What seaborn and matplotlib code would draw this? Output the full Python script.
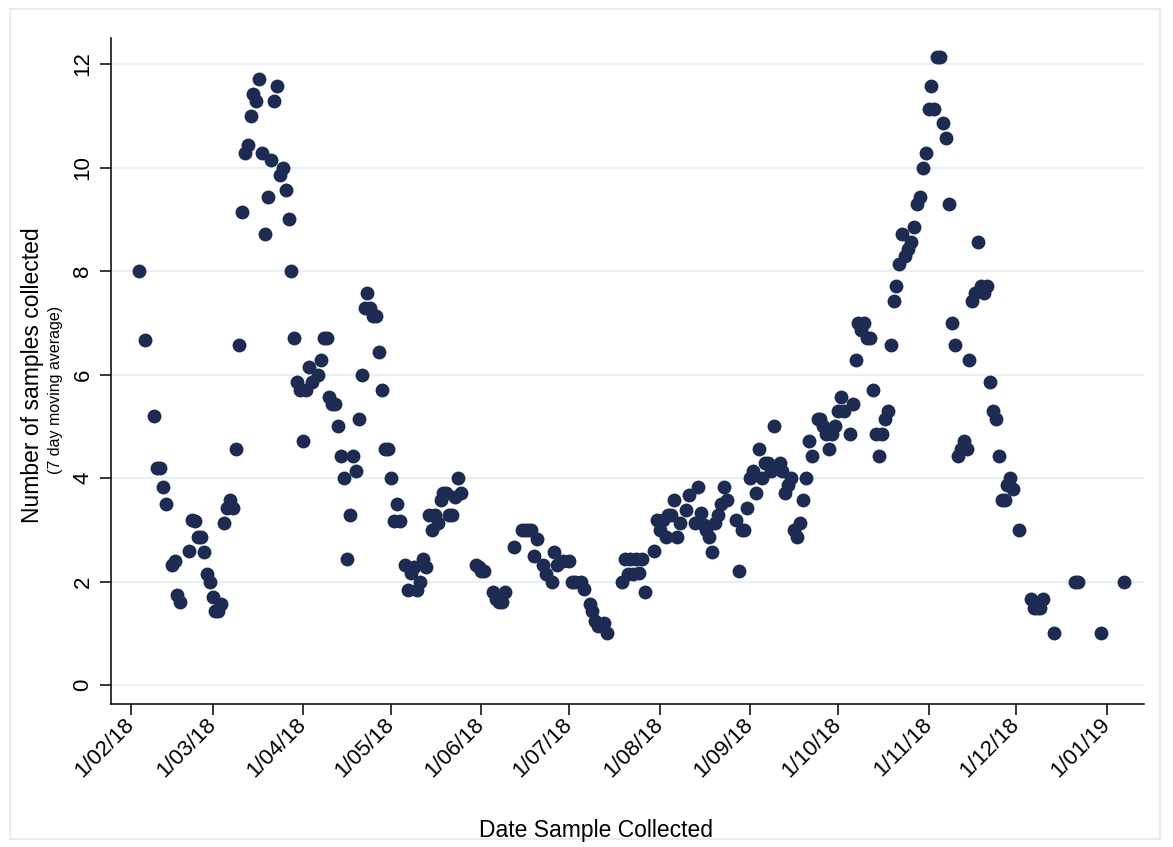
import matplotlib.pyplot as plt
import matplotlib.patches as mpatches
import numpy as np
import pandas as pd
import seaborn as sns

# days since 1 Feb 2018 and the 7 day moving average of samples on that day
day_offset = [
    3, 5, 8, 9, 10, 11, 12, 14, 15, 16, 17, 20, 21, 22, 23, 24, 25, 26, 27, 28,
    29, 30, 31, 32, 33, 34, 35, 36, 37, 38, 39, 40, 41, 42, 43, 44, 45, 46, 47, 48,
    49, 50, 51, 52, 53, 54, 55, 56, 57, 58, 59, 60, 61, 62, 64, 65, 66, 67, 68, 69,
    70, 71, 72, 73, 74, 75, 76, 77, 78, 79, 80, 81, 82, 83, 84, 85, 86, 87, 88, 89,
    90, 91, 92, 94, 95, 96, 97, 98, 99, 100, 101, 102, 103, 104, 105, 106, 107, 108, 109, 110,
    111, 112, 113, 118, 119, 120, 121, 124, 125, 126, 127, 128, 131, 134, 135, 136, 137, 138, 139, 141,
    142, 144, 145, 146, 148, 150, 151, 152, 154, 155, 157, 158, 159, 160, 162, 163, 168, 169, 170, 171,
    172, 173, 174, 175, 176, 179, 180, 181, 182, 183, 184, 185, 186, 187, 188, 190, 191, 193, 194, 195,
    196, 197, 198, 199, 200, 201, 202, 203, 204, 207, 208, 209, 210, 211, 212, 213, 214, 215, 216, 217,
    218, 219, 220, 222, 223, 224, 225, 226, 227, 228, 229, 230, 231, 232, 233, 235, 236, 237, 238, 239,
    240, 241, 242, 243, 244, 246, 247, 248, 249, 250, 251, 252, 253, 254, 255, 256, 257, 258, 259, 260,
    261, 262, 263, 264, 265, 266, 267, 268, 269, 270, 271, 272, 273, 274, 275, 276, 277, 278, 279, 280,
    281, 282, 283, 284, 285, 286, 287, 288, 289, 290, 291, 292, 293, 294, 295, 296, 297, 298, 299, 300,
    301, 302, 304, 308, 309, 310, 311, 312, 316, 323, 324, 332, 340,
]
samples_avg = [
    8.0, 6.67, 5.2, 4.2, 4.2, 3.83, 3.5, 2.33, 2.4, 1.75, 1.6, 2.6, 3.2, 3.17, 2.86, 2.86, 2.57, 2.14, 2.0, 1.71,
    1.43, 1.43, 1.57, 3.14, 3.43, 3.57, 3.43, 4.57, 6.57, 9.14, 10.29, 10.43, 11.0, 11.43, 11.29, 11.71, 10.29, 8.71, 9.43, 10.14,
    11.29, 11.57, 9.86, 10.0, 9.57, 9.0, 8.0, 6.71, 5.86, 5.71, 4.71, 5.71, 6.14, 5.86, 6.0, 6.29, 6.71, 6.71, 5.57, 5.43,
    5.43, 5.0, 4.43, 4.0, 2.43, 3.29, 4.43, 4.14, 5.14, 6.0, 7.29, 7.57, 7.29, 7.14, 7.14, 6.43, 5.71, 4.57, 4.57, 4.0,
    3.17, 3.5, 3.17, 2.33, 1.83, 2.17, 2.29, 1.83, 2.0, 2.43, 2.29, 3.29, 3.0, 3.29, 3.14, 3.57, 3.71, 3.71, 3.29, 3.29,
    3.64, 4.0, 3.71, 2.33, 2.29, 2.2, 2.2, 1.8, 1.67, 1.6, 1.6, 1.8, 2.67, 3.0, 3.0, 3.0, 3.0, 2.5, 2.83, 2.33,
    2.14, 2.0, 2.57, 2.33, 2.4, 2.4, 2.0, 2.0, 2.0, 1.86, 1.57, 1.43, 1.25, 1.14, 1.2, 1.0, 2.0, 2.43, 2.14, 2.43,
    2.14, 2.43, 2.17, 2.43, 1.8, 2.6, 3.19, 3.0, 3.19, 2.86, 3.29, 3.29, 3.57, 2.86, 3.14, 3.39, 3.67, 3.14, 3.83, 3.33,
    3.1, 3.0, 2.86, 2.57, 3.14, 3.29, 3.5, 3.83, 3.57, 3.2, 2.2, 3.0, 3.0, 3.43, 4.0, 4.14, 3.71, 4.57, 4.0, 4.29,
    4.29, 4.14, 5.0, 4.29, 4.14, 3.71, 3.86, 4.0, 3.0, 2.86, 3.14, 3.57, 4.0, 4.71, 4.43, 5.14, 5.14, 5.0, 4.86, 4.57,
    4.86, 5.0, 5.29, 5.57, 5.29, 4.86, 5.43, 6.29, 7.0, 6.86, 7.0, 6.71, 6.71, 5.71, 4.86, 4.43, 4.86, 5.14, 5.29, 6.57,
    7.43, 7.71, 8.14, 8.71, 8.29, 8.43, 8.57, 8.86, 9.29, 9.43, 10.0, 10.29, 11.14, 11.57, 11.14, 12.14, 12.14, 10.86, 10.57, 9.29,
    7.0, 6.57, 4.43, 4.57, 4.71, 4.57, 6.29, 7.43, 7.57, 8.57, 7.71, 7.57, 7.71, 5.86, 5.29, 5.14, 4.43, 3.57, 3.57, 3.86,
    4.0, 3.79, 3.0, 1.67, 1.5, 1.5, 1.5, 1.67, 1.0, 2.0, 2.0, 1.0, 2.0,
]

tick_dates = pd.date_range("2018-02-01", "2019-01-01", freq="MS")
tick_labels = ["1/02/18", "1/03/18", "1/04/18", "1/05/18", "1/06/18", "1/07/18",
               "1/08/18", "1/09/18", "1/10/18", "1/11/18", "1/12/18", "1/01/19"]
y_ticks = [0, 2, 4, 6, 8, 10, 12]

df = pd.DataFrame({
    "date": pd.Timestamp("2018-02-01") + pd.to_timedelta(day_offset, unit="D"),
    "avg": samples_avg,
})

sns.set_style("white")
plt.rcParams["font.family"] = ["Liberation Sans", "DejaVu Sans"]
plt.rcParams["text.color"] = "black"
plt.rcParams["xtick.color"] = "black"
plt.rcParams["ytick.color"] = "black"

fig = plt.figure(figsize=(11.73, 8.47), dpi=100)
ax = fig.add_axes([0.095, 0.169, 0.880, 0.786])

g = sns.scatterplot(data=df, x="date", y="avg", ax=ax, color="#1d2b52",
                    s=100, linewidth=0, zorder=3)

start = pd.Timestamp("2018-02-01")
ax.set_xlim(start - pd.Timedelta(days=6.6), start + pd.Timedelta(days=346.6))
ax.set_ylim(-0.36, 12.5)

ax.set_xticks(tick_dates)
ax.set_xticklabels(tick_labels, rotation=45, ha="right", va="center",
                   rotation_mode="anchor", fontsize=16, color="black")
ax.set_yticks(y_ticks)
ax.set_yticklabels([str(v) for v in y_ticks], rotation=90, va="center",
                   fontsize=16, color="black")
ax.tick_params(axis="x", bottom=True, direction="out", length=8, width=1.1,
               color="black", pad=5)
ax.tick_params(axis="y", left=True, direction="out", length=8, width=1.1,
               color="black", pad=5)

ax.grid(axis="y", color="#e8f0f2", linewidth=1.6, zorder=0)
ax.grid(axis="x", visible=False)
for side in ["top", "right"]:
    ax.spines[side].set_visible(False)
for side in ["left", "bottom"]:
    ax.spines[side].set_color("black")
    ax.spines[side].set_linewidth(1.1)

ax.set_xlabel("")
ax.set_ylabel("")
fig.text(596 / 1173, 1 - 830 / 847, "Date Sample Collected", ha="center",
         va="center", fontsize=16.5, color="black")
fig.text(33 / 1173, 1 - 375 / 847, "Number of samples collected", rotation=90,
         ha="center", va="center", fontsize=16.5, color="black")
fig.text(56 / 1173, 1 - 390 / 847, "(7 day moving average)", rotation=90,
         ha="center", va="center", fontsize=11.5, color="black")

# light outer frame like the original graph region
fig.patches.append(mpatches.Rectangle((10 / 1173, 8 / 847), 1150 / 1173, 830 / 847,
                                      transform=fig.transFigure, fill=False,
                                      edgecolor="#e6edf1", linewidth=1.5))

fig.savefig("out.png", dpi=100)
